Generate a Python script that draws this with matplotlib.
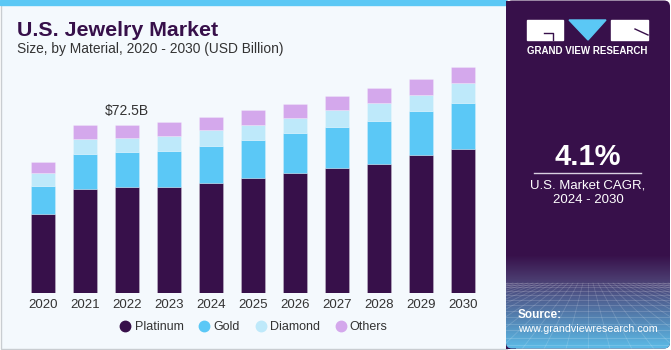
import numpy as np
import matplotlib
matplotlib.use("Agg")
import matplotlib.pyplot as plt
from matplotlib.patches import Rectangle, FancyBboxPatch, Polygon
from matplotlib.lines import Line2D

plt.rcParams['font.family'] = ['Liberation Sans', 'DejaVu Sans']

# ---------------- data ----------------
years = ["2020", "2021", "2022", "2023", "2024", "2025", "2026", "2027", "2028", "2029", "2030"]
platinum = [34.1, 44.8, 45.6, 45.7, 47.6, 49.7, 51.9, 53.8, 55.7, 59.3, 62.2]
gold     = [12.0, 15.1, 15.2, 15.6, 15.9, 16.4, 17.1, 17.9, 18.5, 19.2, 19.8]
diamond  = [5.7, 6.5, 6.1, 6.2, 6.7, 6.2, 6.3, 6.9, 7.5, 6.8, 8.2]
others   = [4.7, 6.1, 5.6, 6.1, 5.6, 6.3, 6.1, 6.3, 6.5, 6.9, 7.1]
series_names = ["Platinum", "Gold", "Diamond", "Others"]
series_colors = ["#37104A", "#5BC8F6", "#BEE9FA", "#D4A8EC"]
annot_year = "2022"
annot_text = "$72.5B"
cagr_text = "4.1%"
cagr_label = "U.S. Market CAGR,\n2024 - 2030"
title = "U.S. Jewelry Market"
subtitle = "Size, by Material, 2020 - 2030 (USD Billion)"

W, H = 671, 350
fig = plt.figure(figsize=(W / 100, H / 100), dpi=100)

# background axes in pixel coords
bg = fig.add_axes([0, 0, 1, 1])
bg.set_xlim(0, W)
bg.set_ylim(H, 0)
bg.axis("off")
bg.add_patch(Rectangle((0, 0), W, H, color="white", zorder=0))
bg.add_patch(Rectangle((0.5, 0), 506, H - 1.5, facecolor="#F4F9FD",
                       edgecolor="#C9CDD1", lw=1, zorder=1))
bg.add_patch(Rectangle((0, 0), 506, 5, color="#5BC8F5", zorder=2))

# right panel
panel = FancyBboxPatch((506, 0.5), 164, H - 2, boxstyle="round,pad=0,rounding_size=6",
                       facecolor="#37104A", edgecolor="none", zorder=2)
bg.add_patch(panel)
bg.add_patch(Rectangle((506, 0.5), 10, H - 2, facecolor="#37104A", edgecolor="none", zorder=2))
grad = np.linspace(0, 1, 200)
c0 = np.array([0x37, 0x10, 0x4A]) / 255
c1 = np.array([0x4A, 0x3A, 0x6E]) / 255
c2 = np.array([0x5C, 0xBC, 0xE8]) / 255
img = np.zeros((200, 1, 3))
for i, g in enumerate(grad):
    if g < 0.25:
        t = g / 0.25
        img[i, 0] = c0 * (1 - t) + c1 * t
    else:
        t = (g - 0.25) / 0.75
        img[i, 0] = c1 * (1 - t) + c2 * t
im = bg.imshow(img, extent=[506, 670, 349, 255], aspect="auto", zorder=3, interpolation="bilinear")
im.set_clip_path(panel)
# perspective grid
for k in range(14):
    yy = 283 + (k ** 1.5) * 1.5
    l = bg.plot([506, 670], [yy, yy], color="white", alpha=0.18, lw=0.6, zorder=4)[0]
    l.set_clip_path(panel)
for k in range(-20, 21):
    x0 = 588 + k * 5
    x1 = 588 + k * 22
    l = bg.plot([x0, x1], [283, 349], color="white", alpha=0.16, lw=0.6, zorder=4)[0]
    l.set_clip_path(panel)

# logo
bg.add_patch(Rectangle((527, 20), 36, 19.5, color="white", zorder=5))
bg.plot([544, 553, 553], [32.5, 32.5, 39.5], color="#37104A", lw=1, zorder=6)
bg.add_patch(Polygon([[569, 20], [606, 20], [588, 40]], closed=True, color="#5BC8F5", zorder=5))
bg.add_patch(Rectangle((611, 20), 37, 19.5, color="white", zorder=5))
bg.plot([635, 648], [29, 35], color="#37104A", lw=1, zorder=6)
bg.text(587.5, 51.5, "GRAND VIEW RESEARCH", color="white", fontsize=7.0, fontweight="bold",
        ha="center", va="center", zorder=6)

bg.text(588, 157, cagr_text, color="white", fontsize=21, fontweight="bold",
        ha="center", va="center", zorder=6)
bg.plot([534, 641], [173, 173], color="#D8D0E0", lw=1, zorder=6)
bg.text(588, 193, cagr_label, color="white", fontsize=9.5, ha="center", va="center",
        linespacing=1.25, zorder=6)
bg.text(518, 315, "Source:", color="white", fontsize=8.5, fontweight="bold",
        ha="left", va="center", zorder=6)
bg.text(518, 329, "www.grandviewresearch.com", color="white", fontsize=7.7,
        ha="left", va="center", zorder=6)

# titles
bg.text(17, 36, title, color="#37104A", fontsize=15.4, fontweight="bold",
        ha="left", va="baseline", zorder=6)
bg.text(17, 53.5, subtitle, color="#333333", fontsize=9.95,
        ha="left", va="baseline", zorder=6)

# ---------------- chart ----------------
ax_left, ax_right = 22, 484
ax_top, ax_bot = 60.7, 293.3
ax = fig.add_axes([ax_left / W, 1 - ax_bot / H, (ax_right - ax_left) / W, (ax_bot - ax_top) / H])
ax.set_facecolor("none")
ax.set_zorder(10)
x = np.arange(len(years))
bottom = np.zeros(len(years))
for vals, name, col in zip([platinum, gold, diamond, others], series_names, series_colors):
    ax.bar(x, vals, width=0.58, bottom=bottom, color=col, label=name,
           edgecolor=(1, 1, 1, 0.25), linewidth=0.6)
    bottom = bottom + np.array(vals)
ax.set_xlim(-0.5, len(years) - 0.5)
ax.set_ylim(0, 100)
ax.set_xticks(x)
ax.set_xticklabels(years, fontsize=9.5, color="#333333")
ax.tick_params(axis="x", length=0, pad=4)
ax.set_yticks([])
for s in ax.spines.values():
    s.set_visible(False)

i = years.index(annot_year)
ax.annotate(annot_text, (x[i], bottom[i]), xytext=(0, 7), textcoords="offset points",
            ha="center", va="baseline", fontsize=10, color="#333333")

handles = [Line2D([], [], marker="o", linestyle="none", markersize=7.5,
                  markerfacecolor=c, markeredgecolor=c) for c in series_colors]
fig.legend(handles, series_names, loc="center", bbox_to_anchor=(254 / W, 1 - 327 / H),
           ncol=4, frameon=False, fontsize=9.0, handlelength=0.8, handletextpad=0.35,
           columnspacing=1.25, labelcolor="#333333")

fig.savefig("out.png", dpi=100)
